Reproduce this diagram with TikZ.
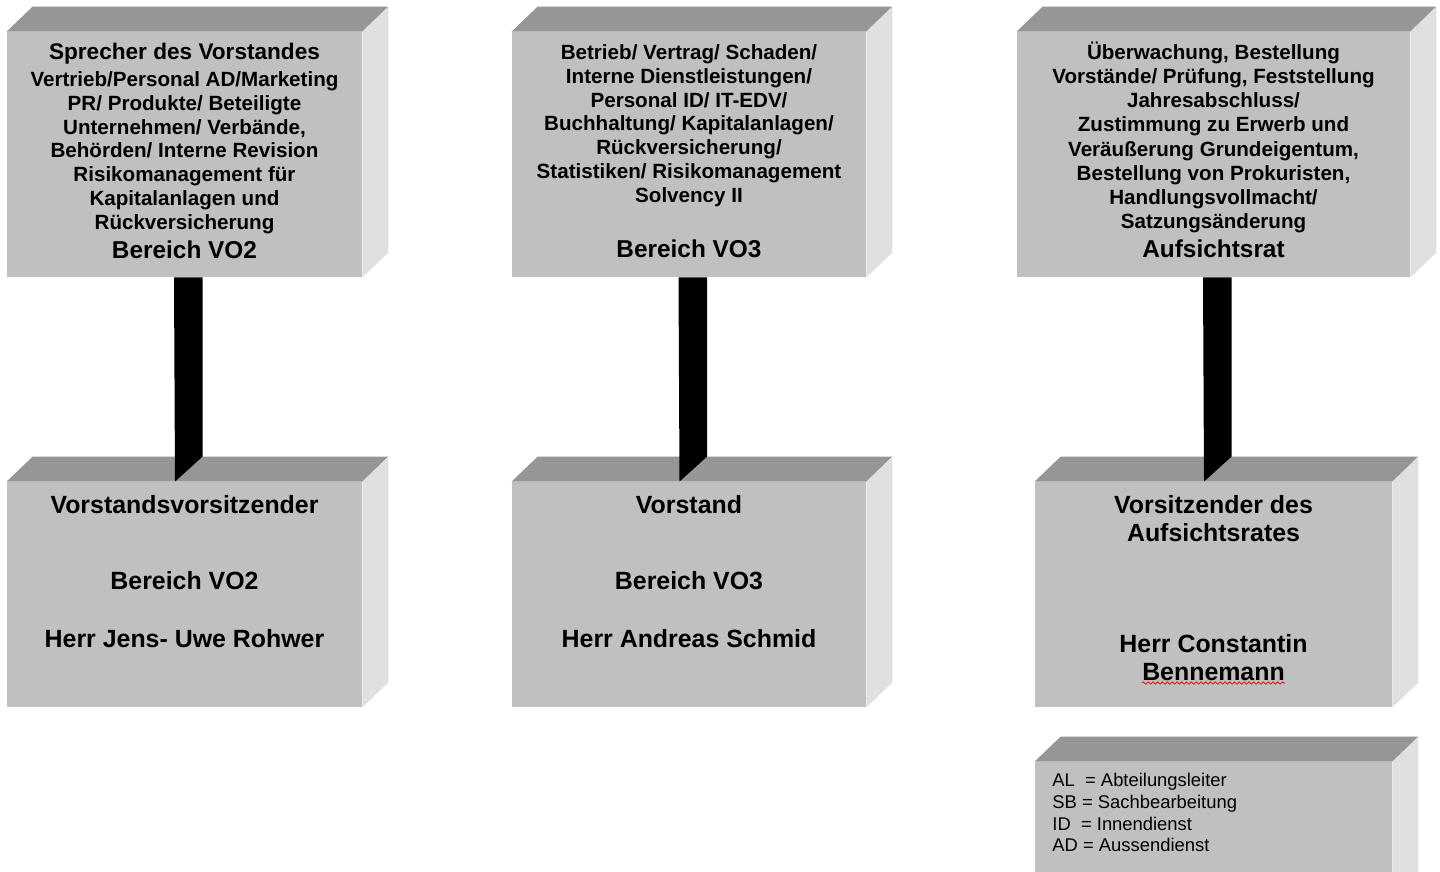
\documentclass[tikz,border=0pt]{standalone}
\usepackage{fontspec}
\setmainfont{Liberation Sans}
\usetikzlibrary{fit,calc,decorations.pathmorphing}
\definecolor{frontgray}{RGB}{192,192,192}
\definecolor{topgray}{RGB}{150,150,150}
\definecolor{sidegray}{RGB}{224,224,224}
\definecolor{spellred}{RGB}{230,40,40}
\tikzset{
  facefront/.style={fill=frontgray, inner sep=0pt, draw=none},
  facetop/.style={fill=topgray},
  faceside/.style={fill=sidegray},
  rod/.style={fill=black},
  txtsmall/.style={font=\bfseries\fontsize{10.3pt}{12pt}\selectfont, inner sep=0pt, anchor=base},
  txthead/.style={font=\bfseries\fontsize{11.3pt}{13pt}\selectfont, inner sep=0pt, anchor=base},
  txtarea/.style={font=\bfseries\fontsize{12.2pt}{14pt}\selectfont, inner sep=0pt, anchor=base},
  txtbig/.style={font=\bfseries\fontsize{12.45pt}{15pt}\selectfont, inner sep=0pt, anchor=base},
  txtlegend/.style={font=\fontsize{9.2pt}{11pt}\selectfont, inner sep=0pt, anchor=base west},
  spell/.style={draw=spellred, line width=0.5pt, decorate, decoration={snake, amplitude=0.55pt, segment length=2.4pt}},
}
\newcommand\boxthreed[5]{%
  \node[facefront, fit={(#2,#3)(#4,#5)}] (#1) {};
  \fill[facetop] (#1.north west) -- ++(26,-25) -- ($(#1.north east)+(26,-25)$) -- (#1.north east) -- cycle;
  \fill[faceside] (#1.north east) -- ++(26,-25) -- ($(#1.south east)+(26,-25)$) -- (#1.south east) -- cycle;
}
\newcommand\rodlink[2]{%
  \fill[rod] ($(#1.south)+(-10.5,0)$) -- ($(#1.south)+(18,0)$) -- ($(#2.north)+(18,-25)$) -- ($(#2.north)+(-9.5,0)$) -- cycle;
}
\newcommand\textlines[5]{% prefix, x, y0, pitch, list
  \foreach \t [count=\i from 0] in {#5} {\node[txtsmall] (#1-\i) at (#2,{#3+\i*#4}) {\t};}
}
\begin{document}
\begin{tikzpicture}[x=0.5pt,y=-0.5pt]
\useasboundingbox (0,0) rectangle (1440,872);
\fill[white] (0,0) rectangle (1440,872);

% boxes
\boxthreed{b1}{7}{32}{362}{277}
\boxthreed{b2}{512}{32}{866}{277}
\boxthreed{b3}{1017}{32}{1410}{277}
\boxthreed{b4}{7}{482}{362}{707}
\boxthreed{b5}{512}{482}{866}{707}
\boxthreed{b6}{1035}{482}{1392}{707}
\boxthreed{b7}{1035}{762}{1392}{905}

% connectors
\rodlink{b1}{b4}
\rodlink{b2}{b5}
\rodlink{b3}{b6}

% box 1
\node[txthead] (t1h) at (184.5,60) {Sprecher des Vorstandes};
\textlines{t1}{184.5}{86.5}{23.8}{Vertrieb/Personal AD/Marketing, PR/ Produkte/ Beteiligte, {Unternehmen/ Verbände,}, Behörden/ Interne Revision, Risikomanagement für, Kapitalanlagen und, Rückversicherung}
\node[txtarea] (t1b) at (184.5,258) {Bereich VO2};

% box 2
\textlines{t2}{689}{59.3}{23.9}{Betrieb/ Vertrag/ Schaden/, Interne Dienstleistungen/, Personal ID/ IT-EDV/, Buchhaltung/ Kapitalanlagen/, Rückversicherung/, Statistiken/ Risikomanagement, Solvency II}
\node[txtarea] (t2b) at (689,257.5) {Bereich VO3};

% box 3
\textlines{t3}{1213.5}{60}{24}{{Überwachung, Bestellung}, {Vorstände/ Prüfung, Feststellung}, Jahresabschluss/, Zustimmung zu Erwerb und, {Veräußerung Grundeigentum,}, {Bestellung von Prokuristen,}, Handlungsvollmacht/, Satzungsänderung}
\node[txtarea] (t3b) at (1213.5,257) {Aufsichtsrat};

% box 4
\node[txtbig] (t4a) at (184.5,513.5) {Vorstandsvorsitzender};
\node[txtbig] (t4b) at (184.5,589.5) {Bereich VO2};
\node[txtbig] (t4c) at (184.5,647.5) {Herr Jens- Uwe Rohwer};

% box 5
\node[txtbig] (t5a) at (689,513.5) {Vorstand};
\node[txtbig] (t5b) at (689,589.5) {Bereich VO3};
\node[txtbig] (t5c) at (689,647.5) {Herr Andreas Schmid};

% box 6
\node[txtbig] (t6a) at (1213.5,513.5) {Vorsitzender des};
\node[txtbig] (t6b) at (1213.5,541.5) {Aufsichtsrates};
\node[txtbig] (t6c) at (1213.5,652.5) {Herr Constantin};
\node[txtbig] (t6d) at (1213.5,680.5) {Bennemann};
\draw[spell] ($(t6d.base west)+(0,2.5)$) -- ($(t6d.base east)+(0,2.5)$);

% legend
\node[txtlegend] (l1) at (1052,786.5) {AL\ \ = Abteilungsleiter};
\node[txtlegend] (l2) at (1052,808.3) {SB = Sachbearbeitung};
\node[txtlegend] (l3) at (1052,830) {ID\ \ = Innendienst};
\node[txtlegend] (l4) at (1052,851.7) {AD = Aussendienst};
\end{tikzpicture}
\end{document}
